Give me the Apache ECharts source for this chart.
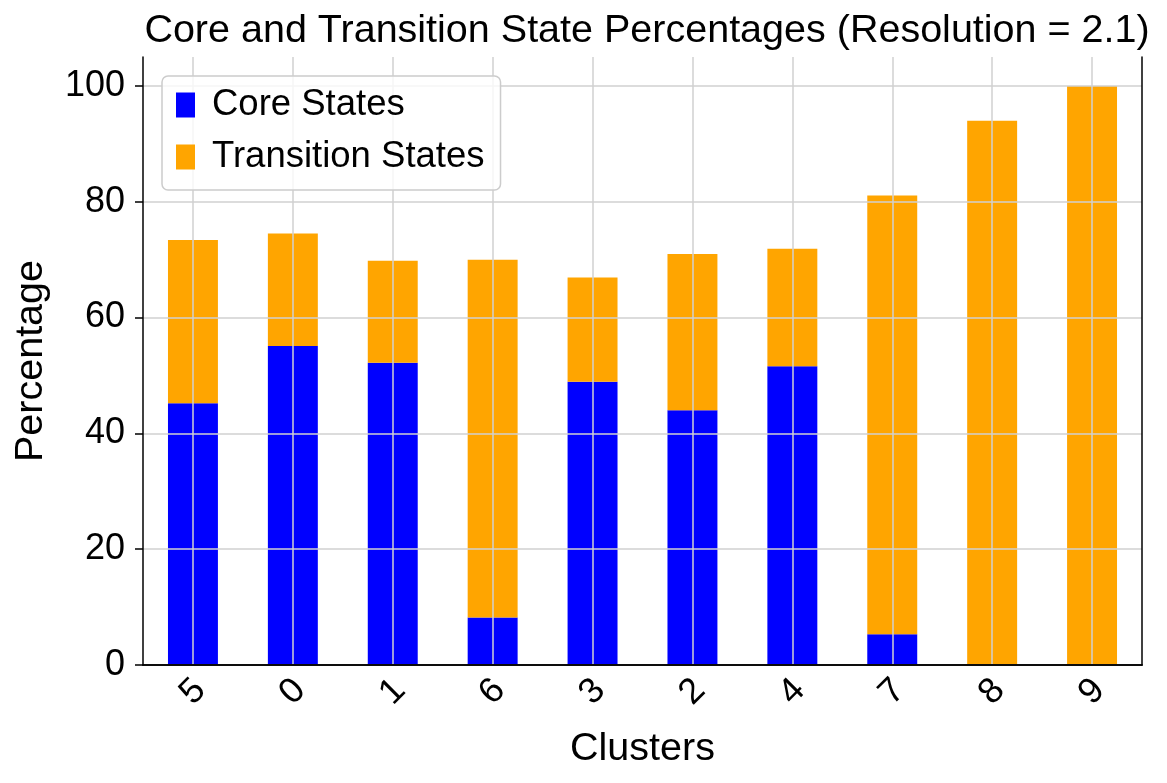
<!DOCTYPE html>
<html>
<head>
<meta charset="utf-8">
<script src="https://cdn.jsdelivr.net/npm/echarts@6/dist/echarts.min.js"></script>
<style>
html, body { margin: 0; padding: 0; background: #fff; }
#chart { width: 1167px; height: 783px; }
</style>
</head>
<body>
<div id="chart"></div>
<script>
// values
var clusters = ['5', '0', '1', '6', '3', '2', '4', '7', '8', '9'];
var coreStates = [45.2, 55.1, 52.2, 8.2, 48.9, 44.0, 51.6, 5.3, 0, 0];
var transitionStates = [28.2, 19.4, 17.6, 61.8, 18.0, 27.0, 20.3, 75.8, 94.0, 100.0];
var yTicks = [0, 20, 40, 60, 80, 100];

var font = 'Liberation Sans, Arial, Helvetica, sans-serif';
var gridColor = '#d0d0d0';

var chart = echarts.init(document.getElementById('chart'));
chart.setOption({
    animation: false,
    backgroundColor: '#fff',
    textStyle: { fontFamily: font },
    title: {
        text: 'Core and Transition State Percentages (Resolution = 2.1)',
        left: 642,
        textAlign: 'center',
        top: 6,
        textStyle: { fontFamily: font, fontSize: 39.5, fontWeight: 'normal', color: '#000' }
    },
    legend: {
        data: ['Core States', 'Transition States'],
        orient: 'vertical',
        left: 162,
        top: 76,
        z: 10,
        padding: [9, 16, 13, 14],
        itemGap: 12,
        itemWidth: 19,
        itemHeight: 25,
        icon: 'rect',
        backgroundColor: 'rgba(255,255,255,0.8)',
        borderColor: '#cccccc',
        borderWidth: 1.5,
        borderRadius: 6,
        textStyle: { fontFamily: font, fontSize: 36.5, color: '#000', lineHeight: 40, padding: [0, 0, 0, 12] }
    },
    grid: { left: 143, right: 25, top: 57, bottom: 118, containLabel: false },
    xAxis: [
        {
            type: 'category',
            data: clusters,
            z: 5,
            name: 'Clusters',
            nameLocation: 'middle',
            nameGap: 64,
            nameTextStyle: { fontFamily: font, fontSize: 39.5, color: '#000' },
            axisLine: { lineStyle: { color: '#000', width: 1.5 } },
            axisTick: { alignWithLabel: true, length: 8, lineStyle: { color: '#000', width: 1.5 } },
            axisLabel: {
                rotate: 45, align: 'center', verticalAlign: 'middle', margin: 27,
                fontFamily: font, fontSize: 36, color: '#000'
            },
            splitLine: { show: true, alignWithLabel: true, lineStyle: { color: gridColor, width: 1.5 } }
        },
        {
            type: 'category',
            data: clusters,
            position: 'top',
            z: 6,
            axisLine: { lineStyle: { color: '#000', width: 1.5 } },
            axisTick: { show: false },
            axisLabel: { show: false },
            splitLine: { show: false }
        }
    ],
    yAxis: [
        {
            type: 'value',
            min: 0,
            max: 105,
            interval: 20,
            z: 5,
            name: 'Percentage',
            nameLocation: 'middle',
            nameGap: 92,
            nameTextStyle: { fontFamily: font, fontSize: 39.5, color: '#000' },
            axisLine: { show: true, lineStyle: { color: '#000', width: 1.5 } },
            axisTick: { show: true, length: 8, customValues: yTicks, lineStyle: { color: '#000', width: 1.5 } },
            axisLabel: { customValues: yTicks, margin: 18, fontFamily: font, fontSize: 36, color: '#000' },
            splitLine: { show: true, lineStyle: { color: gridColor, width: 1.5 } }
        },
        {
            type: 'value',
            min: 0,
            max: 105,
            position: 'right',
            z: 6,
            axisLine: { show: true, lineStyle: { color: '#000', width: 1.5 } },
            axisTick: { show: false },
            axisLabel: { show: false },
            splitLine: { show: false }
        }
    ],
    series: [
        {
            name: 'Core States',
            type: 'bar',
            stack: 'total',
            barWidth: '50%',
            itemStyle: { color: '#0000ff' },
            data: coreStates
        },
        {
            name: 'Transition States',
            type: 'bar',
            stack: 'total',
            barWidth: '50%',
            itemStyle: { color: '#ffa500' },
            data: transitionStates
        }
    ]
});
</script>
</body>
</html>
